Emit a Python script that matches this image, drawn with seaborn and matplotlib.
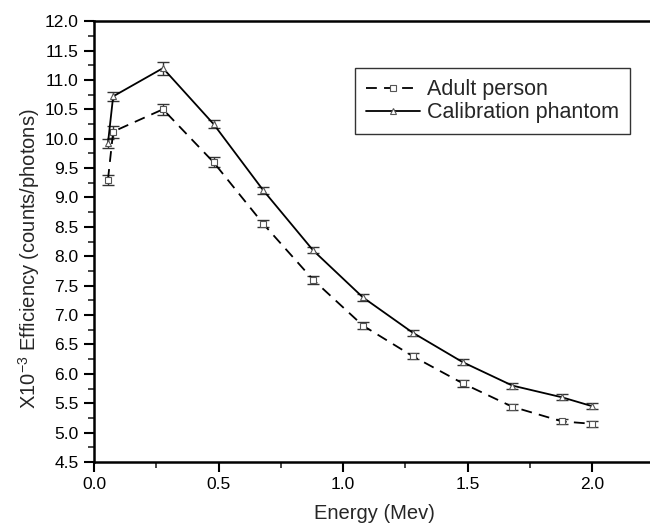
import numpy as np
import pandas as pd
import matplotlib
matplotlib.use("Agg")
import matplotlib.pyplot as plt
import seaborn as sns

# Data
energy = [0.056, 0.077, 0.277, 0.48, 0.68, 0.88, 1.08, 1.28, 1.48, 1.68, 1.88, 2.0]
adult = [9.30, 10.12, 10.50, 9.60, 8.55, 7.60, 6.82, 6.30, 5.84, 5.44, 5.19, 5.15]
adult_err = [0.09, 0.10, 0.09, 0.08, 0.06, 0.07, 0.06, 0.05, 0.06, 0.05, 0.04, 0.05]
phantom = [9.92, 10.72, 11.20, 10.25, 9.12, 8.10, 7.30, 6.70, 6.20, 5.80, 5.60, 5.45]
phantom_err = [0.08, 0.08, 0.11, 0.07, 0.06, 0.05, 0.06, 0.05, 0.05, 0.05, 0.05, 0.05]
series = ["Adult person", "Calibration phantom"]

df = pd.DataFrame({
    "Energy": energy * 2,
    "Efficiency": adult + phantom,
    "err": adult_err + phantom_err,
    "Series": [series[0]] * len(energy) + [series[1]] * len(energy),
})

sns.set_style("ticks")
plt.rcParams["font.family"] = ["Liberation Sans", "DejaVu Sans"]
plt.rcParams["mathtext.default"] = "regular"

fig = plt.figure(figsize=(6.5, 5.28), dpi=100)
ax = fig.add_axes([0.1446, 0.125, 0.862, 0.835])

# error bars first, lines + markers on top
for name in series:
    sub = df[df["Series"] == name]
    ax.errorbar(sub["Energy"], sub["Efficiency"], yerr=sub["err"], fmt="none",
                ecolor="#333333", elinewidth=1, capsize=4, capthick=1, zorder=2)

sns.lineplot(data=df, x="Energy", y="Efficiency", hue="Series", style="Series",
             palette=["black", "black"], dashes={series[0]: (6, 4), series[1]: ""},
             markers={series[0]: "s", series[1]: "^"}, markersize=5,
             markerfacecolor="white", markeredgecolor="#555555", markeredgewidth=0.8,
             linewidth=1.3, ax=ax, zorder=3)

ax.set_xlim(0, 2.25)
ax.set_ylim(4.5, 12.0)
ax.set_xticks([0.0, 0.5, 1.0, 1.5, 2.0])
ax.set_xticks(np.arange(0.25, 2.25, 0.5), minor=True)
ax.set_yticks(np.arange(4.5, 12.01, 0.5))
ax.set_yticks(np.arange(4.75, 12.0, 0.5), minor=True)
ax.set_xticklabels(["0.0", "0.5", "1.0", "1.5", "2.0"])
ax.set_yticklabels(["%.1f" % v for v in np.arange(4.5, 12.01, 0.5)])
ax.tick_params(axis="both", which="major", direction="out", length=7, width=1.5,
               labelsize=12.5, colors="black", pad=4)
ax.tick_params(axis="both", which="minor", direction="out", length=4, width=1.2)

for s in ["left", "bottom", "top"]:
    ax.spines[s].set_linewidth(1.8)
    ax.spines[s].set_color("black")
ax.spines["right"].set_visible(False)

ax.set_xlabel("Energy (Mev)", fontsize=14.5)
ax.xaxis.set_label_coords(0.5, -0.095)
ax.set_ylabel("X10$^{-3}$ Efficiency (counts/photons)", fontsize=14.5)
ax.yaxis.set_label_coords(-0.093, 0.46)

leg = ax.legend(loc="upper left", bbox_to_anchor=(0.466, 0.893), borderaxespad=0,
                fontsize=15.5, frameon=True, fancybox=False, edgecolor="black",
                handlelength=2.5, handletextpad=0.33, borderpad=0.5, labelspacing=0.1)
leg.get_frame().set_linewidth(1.0)

fig.savefig("out.png", dpi=100)
